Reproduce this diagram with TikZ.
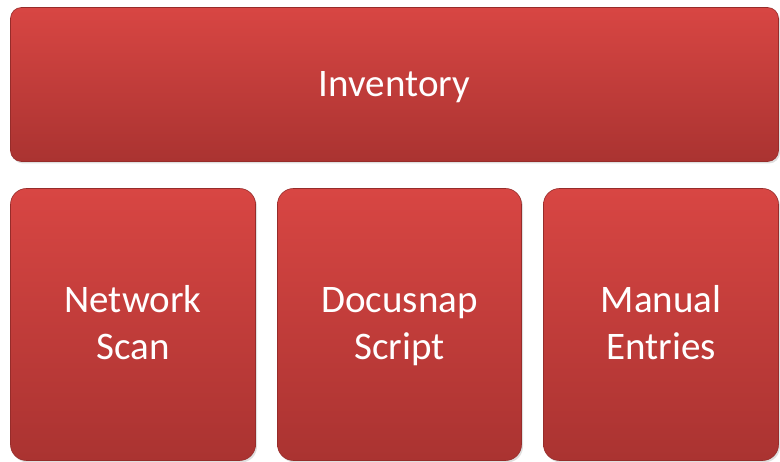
\documentclass[tikz,border=0pt]{standalone}
\usepackage{fontspec}
\setmainfont{Carlito}
\usepackage{tikz}
\usetikzlibrary{shadows}

\definecolor{boxtop}{RGB}{216,70,67}
\definecolor{boxbottom}{RGB}{170,51,49}
\definecolor{boxedge}{RGB}{150,44,42}

% centred lines, set a little low in the box
\newcommand{\boxlines}[1]{\raisebox{-2.5pt}[\height][\depth]{\begin{tabular}{@{}c@{}}#1\end{tabular}}}

\begin{document}
\begin{tikzpicture}[x=1pt, y=-1pt,
  every node/.style={font=\fontsize{39}{47}\selectfont, text=white},
  block/.style={rounded corners=16pt, draw=boxedge, line width=0.6pt,
    top color=boxtop, bottom color=boxbottom, inner sep=0pt,
    drop shadow={shadow xshift=1.5pt, shadow yshift=-2pt, opacity=0.25}}]
  \useasboundingbox (0,0) rectangle (780,462);

  % Top bar
  \node[block, rounded corners=11pt, minimum width=768pt, minimum height=154pt] (inventory) at (394.5,84.5) {\boxlines{Inventory}};

  % Sources underneath
  \node[block, minimum width=245pt, minimum height=272pt] (scan)   at (133,324.5)   {\boxlines{Network\\Scan}};
  \node[block, minimum width=244pt, minimum height=272pt] (script) at (399.5,324.5) {\boxlines{Docusnap\\Script}};
  \node[block, minimum width=235pt, minimum height=272pt] (manual) at (661,324.5)   {\boxlines{Manual\\Entries}};
\end{tikzpicture}
\end{document}
